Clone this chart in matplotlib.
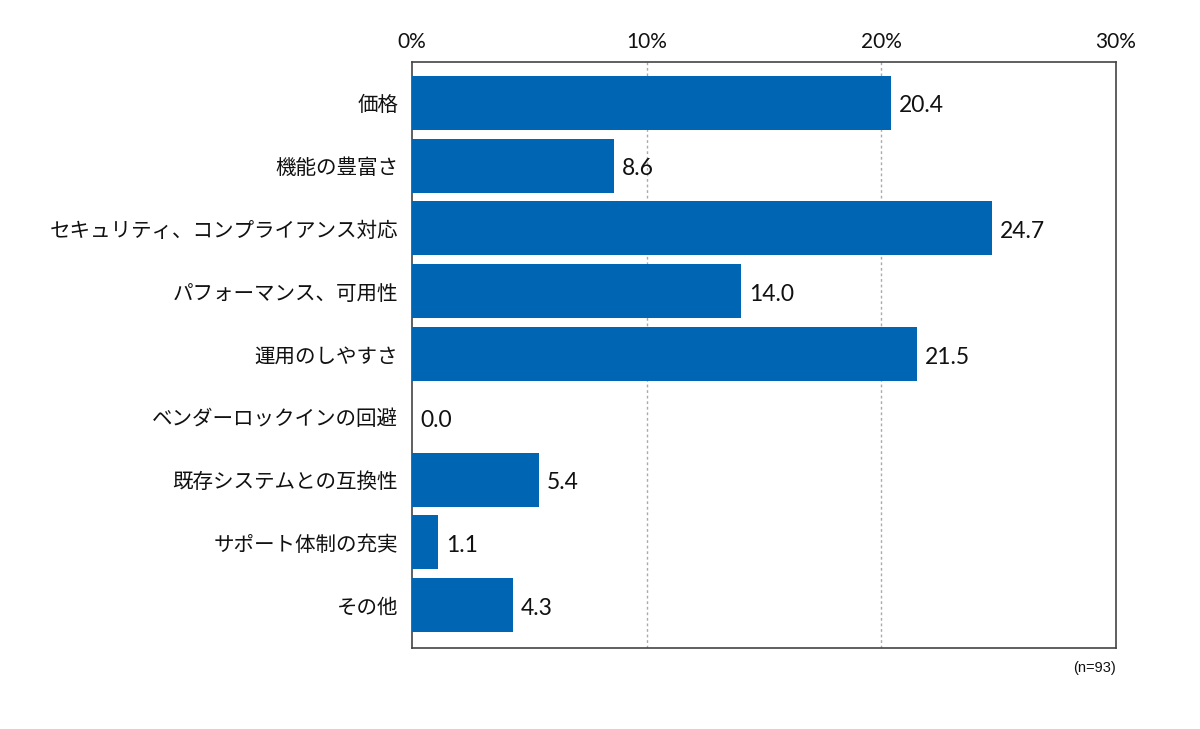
import matplotlib
matplotlib.use("Agg")
import matplotlib.pyplot as plt

plt.rcParams['font.family'] = ['Noto Sans CJK JP', 'DejaVu Sans']
NUM_FONT = ['Lato', 'Noto Sans CJK JP']

# データ
categories = [
    "価格",
    "機能の豊富さ",
    "セキュリティ、コンプライアンス対応",
    "パフォーマンス、可用性",
    "運用のしやすさ",
    "ベンダーロックインの回避",
    "既存システムとの互換性",
    "サポート体制の充実",
    "その他",
]
values = [20.4, 8.6, 24.7, 14.0, 21.5, 0.0, 5.4, 1.1, 4.3]
xticks = [0, 10, 20, 30]
xtick_labels = ["0%", "10%", "20%", "30%"]

fig = plt.figure(figsize=(12, 7.29), dpi=100)
ax = fig.add_axes([412 / 1200, 1 - 648 / 729, (1116 - 412) / 1200, (648 - 62) / 729])

pos = list(range(len(categories)))
ax.barh(pos, values, height=0.86, color='#0066b3', zorder=3)

for p, v in zip(pos, values):
    ax.text(v + 0.35, p + 0.05, f"{v:.1f}", va='center', ha='left',
            fontsize=16.5, color='#111', family=NUM_FONT)

ax.set_xlim(0, 30)
ax.set_ylim(8.68, -0.65)
ax.set_yticks(pos)
ax.set_yticklabels(categories, fontsize=14.8, color='#111')
ax.set_xticks(xticks)
ax.set_xticklabels(xtick_labels, fontsize=15, color='#111', family=NUM_FONT)
ax.xaxis.tick_top()
ax.tick_params(axis='both', length=0)
ax.tick_params(axis='x', pad=7)
ax.tick_params(axis='y', pad=10)

for x in [10, 20]:
    ax.axvline(x, color='#aaaaaa', lw=1, ls=(0, (2, 2)), zorder=1)

for s in ax.spines.values():
    s.set_color('#444')
    s.set_linewidth(1.2)

fig.text(1116 / 1200, 1 - 668 / 729, "(n=93)", ha='right', va='center',
         fontsize=10.5, color='#111', family=['Liberation Sans', 'DejaVu Sans'])

plt.savefig('out.png', dpi=100)
